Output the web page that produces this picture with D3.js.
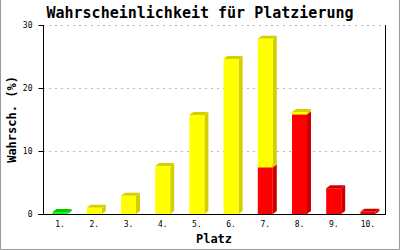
<!DOCTYPE html>
<html>
<head>
<meta charset="utf-8">
<script src="https://cdn.jsdelivr.net/npm/d3@7"></script>
<style>
  body { margin: 0; background: #fff; }
  svg { display: block; }
</style>
</head>
<body>
<div id="chart-container"></div>
<script>
// PLATZIERUNG CHART //

// categories + stacked series (percent)
const places = ["1.", "2.", "3.", "4.", "5.", "6.", "7.", "8.", "9.", "10."];
const greenVals = [0.3, 0, 0, 0, 0, 0, 0, 0, 0, 0];
const redVals = [0, 0, 0, 0, 0, 0, 7.4, 15.8, 4.1, 0.35];
const yellowVals = [0, 1.0, 2.9, 7.6, 15.7, 24.6, 20.4, 0.4, 0, 0];
const yTicks = [0, 10, 20, 30];

const totalWidth = 400;
const totalHeight = 250;
const margin = { top: 25, bottom: 36, right: 15, left: 43 };
const width = totalWidth - margin.left - margin.right;
const height = totalHeight - margin.top - margin.bottom;

// 3d look
const barW = 15;
const depthX = 4;
const depthY = 3;

const seriesList = [
	{ vals: greenVals, front: "#00ff00", dark: "#00c800" },
	{ vals: redVals, front: "#ff0000", dark: "#cc0000" },
	{ vals: yellowVals, front: "#ffff00", dark: "#d4d000" },
];

const svg = d3
	.select("#chart-container")
	.append("svg")
	.attr("width", totalWidth)
	.attr("height", totalHeight);

// outer border
svg
	.append("path")
	.attr("d", `M0.5,0 V${totalHeight - 0.5} H${totalWidth - 0.5} V0`)
	.attr("fill", "none")
	.attr("stroke", "#999");

const g = svg.append("g").attr("transform", `translate(${margin.left},${margin.top})`);

const x = d3.scaleBand().domain(places).range([0, width]);
const y = d3.scaleLinear().domain([0, 30]).range([height, 0]);

// dashed grid
g.append("g")
	.selectAll("line")
	.data(yTicks.filter((t) => t > 0))
	.join("line")
	.attr("x1", 0)
	.attr("x2", width)
	.attr("y1", (d) => Math.round(y(d)) + 0.5)
	.attr("y2", (d) => Math.round(y(d)) + 0.5)
	.attr("stroke", "#bbb")
	.attr("stroke-dasharray", "2,4");

// stack the series, bottom to top
const stacks = places.map((p, i) => {
	let base = 0;
	const segs = [];
	seriesList.forEach((s) => {
		const v = s.vals[i];
		if (v > 0) {
			segs.push({ place: p, y0: base, y1: base + v, front: s.front, dark: s.dark });
			base += v;
		}
	});
	return segs;
});

const bars = g.append("g");
stacks.forEach((segs) => {
	segs.forEach((s) => {
		const x0 = x(s.place) + x.bandwidth() / 2 - barW / 2;
		const x1 = x0 + barW;
		const yb = y(s.y0);
		const yt = y(s.y1);
		// side
		bars.append("polygon")
			.attr("points", [[x1, yt], [x1 + depthX, yt - depthY], [x1 + depthX, yb - depthY], [x1, yb]].join(" "))
			.attr("fill", s.dark);
		// top
		bars.append("polygon")
			.attr("points", [[x0, yt], [x0 + depthX, yt - depthY], [x1 + depthX, yt - depthY], [x1, yt]].join(" "))
			.attr("fill", s.dark);
		// front
		bars.append("rect")
			.attr("x", x0)
			.attr("y", yt)
			.attr("width", barW)
			.attr("height", yb - yt)
			.attr("fill", s.front);
	});
});

// Y axis
const yAxis = g.append("g")
	.attr("transform", "translate(0.5,0)")
	.call(d3.axisLeft(y).tickValues(yTicks).tickSize(5).tickPadding(6).tickFormat(d3.format("d")));
yAxis.select(".domain").attr("stroke", "#000").attr("d", `M0,0 V${height}`);
yAxis.selectAll("text").style("font-family", "DejaVu Sans Mono").style("font-size", "8px");

// right frame line
g.append("line")
	.attr("x1", width + 0.5)
	.attr("x2", width + 0.5)
	.attr("y1", 0)
	.attr("y2", height)
	.attr("stroke", "#000");

// X axis
const xAxis = g.append("g")
	.attr("transform", `translate(0,${height + 0.5})`)
	.call(d3.axisBottom(x).tickSize(0).tickPadding(7));
xAxis.select(".domain").attr("stroke", "#000").attr("d", `M-5,0 H${width + 1}`);
xAxis.selectAll("text").style("font-family", "DejaVu Sans Mono").style("font-size", "8px");

// titles
svg.append("text")
	.attr("x", 200)
	.attr("y", 18)
	.attr("text-anchor", "middle")
	.style("font-family", "DejaVu Sans Mono")
	.style("font-weight", "bold")
	.style("font-size", "15px")
	.text("Wahrscheinlichkeit für Platzierung");

svg.append("text")
	.attr("x", margin.left + width / 2)
	.attr("y", 243)
	.attr("text-anchor", "middle")
	.style("font-family", "DejaVu Sans Mono")
	.style("font-weight", "bold")
	.style("font-size", "12px")
	.text("Platz");

svg.append("text")
	.attr("transform", `translate(16,${margin.top + height / 2}) rotate(-90)`)
	.attr("text-anchor", "middle")
	.style("font-family", "DejaVu Sans Mono")
	.style("font-weight", "bold")
	.style("font-size", "12px")
	.text("Wahrsch. (%)");
</script>
</body>
</html>
